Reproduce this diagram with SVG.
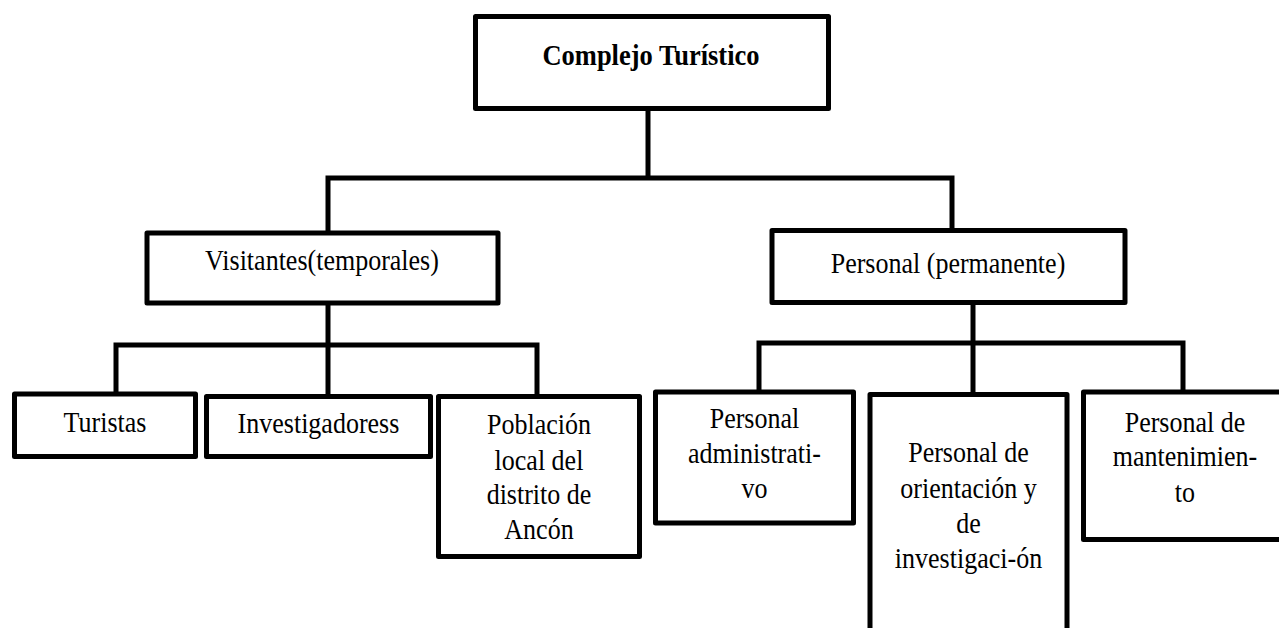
<svg xmlns="http://www.w3.org/2000/svg" width="1279" height="628" viewBox="0 0 1279 628">
<style>
.box{fill:#fff;stroke:#000;stroke-width:5;stroke-linejoin:round}
.con{fill:none;stroke:#000;stroke-width:5;stroke-linejoin:miter;stroke-linecap:butt}
text{font-family:"Liberation Serif","Times New Roman",serif;font-size:26px;fill:#000;text-anchor:middle}
.b{font-weight:bold;font-size:26.5px}
</style>
<rect width="1279" height="628" fill="#fff"/>
<g id="connectors">
<path class="con" d="M648 108 V178"/>
<path class="con" d="M328 233 V178 H952 V230"/>
<path class="con" d="M328 302 V345"/>
<path class="con" d="M116 394 V345 H537 V397"/>
<path class="con" d="M328 345 V396"/>
<path class="con" d="M973 302 V343"/>
<path class="con" d="M759 392 V343 H1183 V392"/>
<path class="con" d="M973 343 V394"/>
</g>
<g id="complejo">
<rect class="box" x="475.5" y="16.5" width="353" height="92"/>
<text class="b" x="651" y="65" transform="matrix(1,0,0,1.1,0,-6.5)">Complejo Turístico</text>
</g>
<g id="visitantes">
<rect class="box" x="147" y="233" width="351" height="70"/>
<text x="322" y="270" transform="matrix(1,0,0,1.1,0,-27)">Visitantes(temporales)</text>
</g>
<g id="personal">
<rect class="box" x="772" y="230.5" width="353" height="72"/>
<text x="948" y="273" transform="matrix(1,0,0,1.1,0,-27.3)">Personal (permanente)</text>
</g>
<g id="turistas">
<rect class="box" x="14.5" y="394" width="181" height="62.5"/>
<text x="105" y="432" transform="matrix(1,0,0,1.1,0,-43.2)">Turistas</text>
</g>
<g id="investigadores">
<rect class="box" x="206.5" y="396.5" width="224" height="60"/>
<text x="318.5" y="433" transform="matrix(1,0,0,1.1,0,-43.3)">Investigadoress</text>
</g>
<g id="poblacion">
<rect class="box" x="438.5" y="396.5" width="201" height="160"/>
<text x="539" y="434" transform="matrix(1,0,0,1.1,0,-43.4)">Población</text>
<text x="539" y="470" transform="matrix(1,0,0,1.1,0,-47)">local del</text>
<text x="539" y="504" transform="matrix(1,0,0,1.1,0,-50.4)">distrito de</text>
<text x="539" y="539" transform="matrix(1,0,0,1.1,0,-53.9)">Ancón</text>
</g>
<g id="administrativo">
<rect class="box" x="655.5" y="392" width="198" height="131"/>
<text x="754.5" y="428" transform="matrix(1,0,0,1.1,0,-42.8)">Personal</text>
<text x="754.5" y="463" transform="matrix(1,0,0,1.1,0,-46.3)">administrati-</text>
<text x="754.5" y="498" transform="matrix(1,0,0,1.1,0,-49.8)">vo</text>
</g>
<g id="orientacion">
<rect class="box" x="870" y="394.5" width="197" height="250"/>
<text x="968.5" y="462" transform="matrix(1,0,0,1.1,0,-46.2)">Personal de</text>
<text x="968.5" y="498" transform="matrix(1,0,0,1.1,0,-49.8)">orientación y</text>
<text x="968.5" y="533" transform="matrix(1,0,0,1.1,0,-53.3)">de</text>
<text x="968.5" y="568" transform="matrix(1,0,0,1.1,0,-56.8)">investigaci-ón</text>
</g>
<g id="mantenimiento">
<rect class="box" x="1083.5" y="392" width="205" height="147.5"/>
<text x="1185" y="432" transform="matrix(1,0,0,1.1,0,-43.2)">Personal de</text>
<text x="1185" y="466" transform="matrix(1,0,0,1.1,0,-46.6)">mantenimien-</text>
<text x="1185" y="502" transform="matrix(1,0,0,1.1,0,-50.2)">to</text>
</g>
</svg>
